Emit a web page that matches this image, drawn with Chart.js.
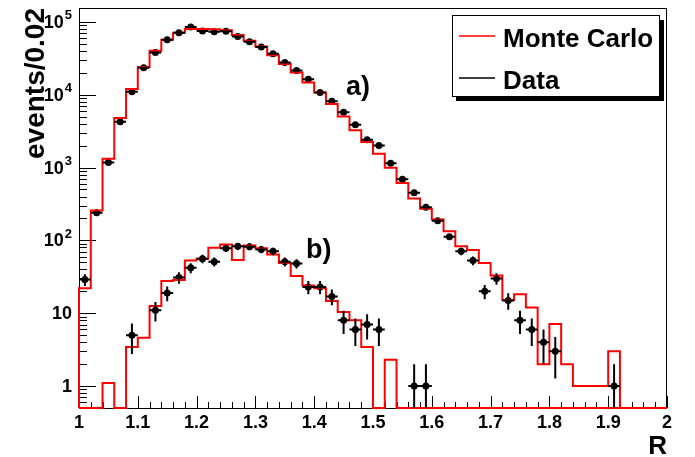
<!DOCTYPE html>
<html>
<head>
<meta charset="utf-8">
<script src="https://cdn.jsdelivr.net/npm/chart.js@4.4.0/dist/chart.umd.min.js"></script>
<style>
  html, body { margin: 0; padding: 0; background: #fff; }
  #wrap { width: 695px; height: 457px; }
</style>
</head>
<body>
<div id="wrap"><canvas id="chart" width="695" height="457"></canvas></div>
<script>
// Histogram bins (width 0.02)
const binCenters = [
    1.01, 1.03, 1.05, 1.07, 1.09, 1.11, 1.13, 1.15, 1.17, 1.19,
    1.21, 1.23, 1.25, 1.27, 1.29, 1.31, 1.33, 1.35, 1.37, 1.39,
    1.41, 1.43, 1.45, 1.47, 1.49, 1.51, 1.53, 1.55, 1.57, 1.59,
    1.61, 1.63, 1.65, 1.67, 1.69, 1.71, 1.73, 1.75, 1.77, 1.79,
    1.81, 1.83, 1.85, 1.87, 1.89, 1.91, 1.93, 1.95, 1.97, 1.99
];
const binWidth = 0.02;

// a) Monte Carlo and data
const mcA = [
    22, 257, 1320, 4800, 12000, 24000, 40000, 56800, 71000, 80000,
    80000, 79000, 77000, 66000, 55000, 46000, 34700, 26500, 20200, 14700,
    10700, 7450, 5030, 3240, 2240, 1550, 990, 615, 376, 272,
    194, 134, 83, 74, 49, 33, 15.2, 18.2, 12, 2.0,
    7.1, 2.0, 1, 1, 1, 3, 0, 0, 0, 0
];
const dataA = [
    29, 240, 1170, 4270, 11000, 23400, 38000, 56800, 71000, 85000,
    75000, 73000, 74500, 63000, 53500, 45000, 36500, 27700, 21500, 16300,
    10700, 8100, 5730, 3870, 2410, 2000, 1150, 690, 450, 286,
    186, 112, 71, 53, 20, 30, 15, 8, 6, 4,
    3, null, null, null, null, 1, null, null, null, null
];

// b) Monte Carlo and data
const mcB = [
    0, 0, 1.1, 0, 3.45, 4.6, 12.6, 27.7, 28.5, 53,
    56, 79.5, 88, 54, 85, 78, 64, 49, 32.4, 24,
    22, 14.7, 10.4, 8.0, 3.45, 0, 2.3, 0, 0, 0,
    0, 0, 0, 0, 0, 0, 0, 0, 0, 0,
    0, 0, 0, 0, 0, 0, 0, 0, 0, 0
];
const dataB = [
    null, null, null, null, 5, null, 11, 19, 31, 42,
    56, 51, 78, 83, 82, 75, 71, 51, 48, 23,
    23, 17, 8, 6, 7, 6, null, null, 1, 1,
    null, null, null, null, null, null, null, null, null, null,
    null, null, null, null, null, null, null, null, null, null
];

// Axis labels
const xTickLabels = ['1', '1.1', '1.2', '1.3', '1.4', '1.5', '1.6', '1.7', '1.8', '1.9', '2'];
const xTickValues = [1, 1.1, 1.2, 1.3, 1.4, 1.5, 1.6, 1.7, 1.8, 1.9, 2];
const yTickValues = [1, 10, 100, 1000, 10000, 100000];
const yMin = 0.5;
const yMax = 1.55e5;

const FONT = '"Liberation Sans", Arial, Helvetica, sans-serif';

// Build step outline for a histogram (zero bins sit on the bottom of the frame)
function stepPoints(values) {
    const pts = [{x: binCenters[0] - binWidth / 2, y: yMin}];
    values.forEach((v, i) => {
        pts.push({x: binCenters[i] - binWidth / 2, y: v > 0 ? v : yMin});
    });
    const last = values[values.length - 1];
    pts.push({x: binCenters[binCenters.length - 1] + binWidth / 2, y: last > 0 ? last : yMin});
    return pts;
}

function dataPoints(values) {
    const pts = [];
    values.forEach((v, i) => {
        if (v !== null && v > 0) pts.push({x: binCenters[i], y: v});
    });
    return pts;
}

// Frame, inward ticks and tick labels (ROOT style)
const framePlugin = {
    id: 'frame',
    beforeDatasetsDraw(chart) {
        const {ctx, chartArea: a, scales: {x, y}} = chart;
        ctx.save();
        ctx.strokeStyle = '#000';
        ctx.lineWidth = 1;
        ctx.strokeRect(a.left + 0.5, a.top + 0.5, a.right - a.left - 1, a.bottom - a.top);

        // x ticks every 0.02
        ctx.beginPath();
        for (let k = 0; k <= 50; k++) {
            const px = Math.round(x.getPixelForValue(1 + k * 0.02)) + 0.5;
            const len = (k % 5 === 0) ? 12 : 6;
            ctx.moveTo(px, a.bottom);
            ctx.lineTo(px, a.bottom - len);
        }
        // y ticks: decades and sub-decades
        for (let e = -1; e <= 5; e++) {
            for (let m = 1; m <= 9; m++) {
                const v = m * Math.pow(10, e);
                if (v < yMin || v > yMax) continue;
                const py = Math.round(y.getPixelForValue(v)) + 0.5;
                const len = (m === 1) ? 17 : 8;
                ctx.moveTo(a.left, py);
                ctx.lineTo(a.left + len, py);
            }
        }
        ctx.stroke();

        // x tick labels
        ctx.fillStyle = '#000';
        ctx.font = 'bold 18px ' + FONT;
        ctx.textAlign = 'center';
        ctx.textBaseline = 'top';
        xTickValues.forEach((v, i) => {
            ctx.fillText(xTickLabels[i], x.getPixelForValue(v), a.bottom + 6);
        });

        // y tick labels with superscripts
        const right = a.left - 7;
        yTickValues.forEach(v => {
            const py = y.getPixelForValue(v);
            const exp = Math.round(Math.log10(v));
            ctx.textAlign = 'right';
            ctx.textBaseline = 'middle';
            if (exp <= 1) {
                ctx.font = 'bold 18px ' + FONT;
                ctx.fillText(String(v), right, py + 1);
            } else {
                ctx.font = 'bold 13px ' + FONT;
                const sup = String(exp);
                const sw = ctx.measureText(sup).width;
                ctx.fillText(sup, right, py - 6);
                ctx.font = 'bold 18px ' + FONT;
                ctx.fillText('10', right - sw - 1, py + 1);
            }
        });

        // axis titles
        ctx.font = 'bold 26px ' + FONT;
        ctx.textAlign = 'right';
        ctx.textBaseline = 'top';
        ctx.fillText('R', a.right, a.bottom + 26);

        ctx.save();
        ctx.translate(44, a.top);
        ctx.rotate(-Math.PI / 2);
        ctx.font = 'bold 28px ' + FONT;
        ctx.textAlign = 'right';
        ctx.textBaseline = 'alphabetic';
        ctx.fillText('events/0.02', 0, 0);
        ctx.restore();

        ctx.restore();
    }
};

// Poisson error bars (x error = half bin width)
const errorBarPlugin = {
    id: 'errorBars',
    afterDatasetsDraw(chart) {
        const {ctx, scales: {x, y}} = chart;
        ctx.save();
        ctx.strokeStyle = '#000';
        ctx.lineWidth = 2;
        chart.data.datasets.forEach(ds => {
            if (!ds.errorBars) return;
            ds.data.forEach(p => {
                const err = Math.sqrt(p.y);
                const lo = Math.max(p.y - err, yMin);
                const px = x.getPixelForValue(p.x);
                const py = y.getPixelForValue(p.y);
                ctx.beginPath();
                ctx.moveTo(px, y.getPixelForValue(lo));
                ctx.lineTo(px, y.getPixelForValue(p.y + err));
                ctx.moveTo(x.getPixelForValue(p.x - binWidth / 2), py);
                ctx.lineTo(x.getPixelForValue(p.x + binWidth / 2), py);
                ctx.stroke();
            });
        });
        ctx.restore();
    }
};

// Legend box with shadow and the a) / b) labels
const legendPlugin = {
    id: 'rootLegend',
    afterDraw(chart) {
        const {ctx} = chart;
        ctx.save();
        ctx.fillStyle = '#000';
        ctx.fillRect(456, 20, 208, 81);
        ctx.fillStyle = '#fff';
        ctx.fillRect(452, 15, 208, 82);
        ctx.strokeStyle = '#000';
        ctx.lineWidth = 1;
        ctx.strokeRect(452.5, 15.5, 207, 81);

        ctx.lineWidth = 1.5;
        ctx.strokeStyle = '#ff0000';
        ctx.beginPath();
        ctx.moveTo(459, 36);
        ctx.lineTo(495, 36);
        ctx.stroke();
        ctx.strokeStyle = '#000';
        ctx.beginPath();
        ctx.moveTo(459, 78);
        ctx.lineTo(495, 78);
        ctx.stroke();

        ctx.fillStyle = '#000';
        ctx.font = 'bold 26px ' + FONT;
        ctx.textAlign = 'left';
        ctx.textBaseline = 'alphabetic';
        ctx.fillText('Monte Carlo', 503, 47);
        ctx.fillText('Data', 503, 89);

        ctx.font = 'bold 27px ' + FONT;
        ctx.fillText('a)', 346, 95);
        ctx.fillText('b)', 306, 258);
        ctx.restore();
    }
};

document.addEventListener('DOMContentLoaded', function() {
    const ctx = document.getElementById('chart').getContext('2d');
    new Chart(ctx, {
        type: 'scatter',
        data: {
            datasets: [
                {
                    label: 'Monte Carlo a)',
                    data: stepPoints(mcA),
                    showLine: true,
                    stepped: 'before',
                    borderColor: '#ff0000',
                    borderWidth: 2,
                    pointRadius: 0,
                    clip: 3
                },
                {
                    label: 'Monte Carlo b)',
                    data: stepPoints(mcB),
                    showLine: true,
                    stepped: 'before',
                    borderColor: '#ff0000',
                    borderWidth: 2,
                    pointRadius: 0,
                    clip: 3
                },
                {
                    label: 'Data a)',
                    data: dataPoints(dataA),
                    errorBars: true,
                    pointRadius: 3.5,
                    pointBackgroundColor: '#000',
                    pointBorderWidth: 0,
                    clip: 3
                },
                {
                    label: 'Data b)',
                    data: dataPoints(dataB),
                    errorBars: true,
                    pointRadius: 3.5,
                    pointBackgroundColor: '#000',
                    pointBorderWidth: 0,
                    clip: 3
                }
            ]
        },
        options: {
            responsive: false,
            animation: false,
            layout: { padding: { left: 79, right: 28, top: 8, bottom: 49 } },
            plugins: {
                legend: { display: false },
                tooltip: { enabled: false }
            },
            scales: {
                x: { type: 'linear', min: 1, max: 2, display: false },
                y: { type: 'logarithmic', min: yMin, max: yMax, display: false }
            }
        },
        plugins: [framePlugin, errorBarPlugin, legendPlugin]
    });
});
</script>
</body>
</html>
